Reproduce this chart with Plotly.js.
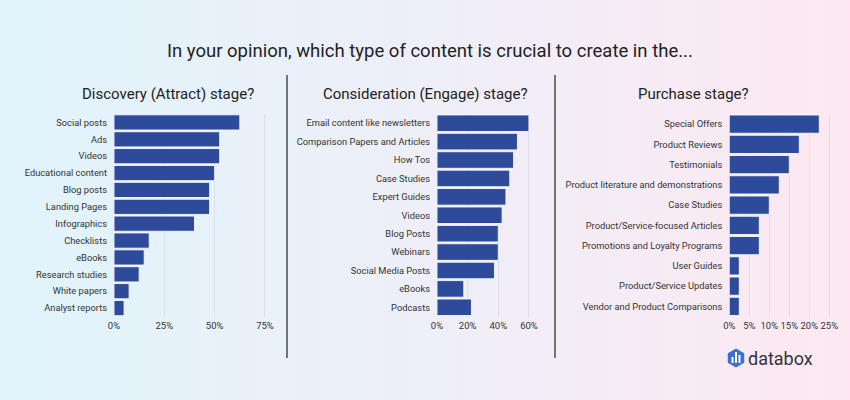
<!DOCTYPE html>
<html>
<head>
<meta charset="utf-8">
<script src="https://cdn.plot.ly/plotly-3.0.1.min.js"></script>
<style>
html, body { margin: 0; padding: 0; }
body {
    width: 850px;
    height: 400px;
    background: linear-gradient(90deg, #e0f4fb 0%, #eeeff8 50%, #fde8f1 100%);
}
#chart { width: 850px; height: 400px; }
</style>
</head>
<body>
<div id="chart"></div>
<script>
const discoveryLabels = ["Social posts", "Ads", "Videos", "Educational content", "Blog posts", "Landing Pages",
    "Infographics", "Checklists", "eBooks", "Research studies", "White papers", "Analyst reports"];
const discoveryValues = [62.5, 52.5, 52.5, 50, 47.5, 47.5, 40, 17.5, 15, 12.5, 7.5, 5];

const considerationLabels = ["Email content like newsletters", "Comparison Papers and Articles", "How Tos",
    "Case Studies", "Expert Guides", "Videos", "Blog Posts", "Webinars", "Social Media Posts", "eBooks", "Podcasts"];
const considerationValues = [60, 52.5, 50, 47.5, 45, 42.5, 40, 40, 37.5, 17.5, 22.5];

const purchaseLabels = ["Special Offers", "Product Reviews", "Testimonials", "Product literature and demonstrations",
    "Case Studies", "Product/Service-focused Articles", "Promotions and Loyalty Programs", "User Guides",
    "Product/Service Updates", "Vendor and Product Comparisons"];
const purchaseValues = [22.5, 17.5, 15, 12.5, 10, 7.5, 7.5, 2.5, 2.5, 2.5];

const discoveryTicks = [0, 25, 50, 75];
const considerationTicks = [0, 20, 40, 60];
const purchaseTicks = [0, 5, 10, 15, 20, 25];

const W = 850;
const H = 400;
const FONT = "Roboto, 'Noto Sans', sans-serif";
const BAR_COLOR = "#2e4a9a";

// pixel -> paper helpers
function px(x) { return x / W; }
function py(y) { return 1 - y / H; }

function barTrace(labels, values, n) {
    return {
        type: "bar",
        orientation: "h",
        x: values,
        y: labels,
        xaxis: "x" + (n === 1 ? "" : n),
        yaxis: "y" + (n === 1 ? "" : n),
        marker: { color: BAR_COLOR, line: { color: "rgba(255,255,255,0.85)", width: 1 } },
        hoverinfo: "none"
    };
}

function xAxis(left, right, maxVal, ticks, n) {
    return {
        domain: [px(left), px(right)],
        range: [0, maxVal],
        tickvals: ticks,
        ticktext: ticks.map((t) => t + "%"),
        tickangle: 0,
        showgrid: true,
        gridcolor: "#dcdfeb",
        gridwidth: 1,
        zeroline: false,
        showline: false,
        ticks: "",
        ticklabelstandoff: 2,
        tickfont: { family: FONT, size: 9.5, color: "#333" },
        anchor: "y" + (n === 1 ? "" : n),
        fixedrange: true
    };
}

function yAxis(n) {
    return {
        domain: [py(316.5), py(114)],
        autorange: "reversed",
        showgrid: false,
        zeroline: false,
        ticks: "",
        ticklabelstandoff: 6,
        tickfont: { family: FONT, size: 9.3, color: "#333" },
        anchor: "x" + (n === 1 ? "" : n),
        fixedrange: true
    };
}

function label(text, x, y, size, opts) {
    return Object.assign({
        text: text,
        xref: "paper",
        yref: "paper",
        x: px(x),
        y: py(y),
        xanchor: "center",
        yanchor: "middle",
        showarrow: false,
        font: { family: FONT, size: size, color: "#222" }
    }, opts || {});
}

function divider(x) {
    return {
        type: "line",
        xref: "paper",
        yref: "paper",
        x0: px(x), x1: px(x),
        y0: py(75), y1: py(358),
        line: { color: "#4a4a4a", width: 1.5 }
    };
}

function hexPath(cx, cy, r) {
    const pts = [];
    for (let i = 0; i < 6; i += 1) {
        const a = Math.PI / 180 * (60 * i - 90);
        pts.push(px(cx + r * Math.cos(a)) + "," + py(cy + r * Math.sin(a)));
    }
    return "M" + pts.join("L") + "Z";
}

function logoBar(x, top, bottom) {
    return {
        type: "rect",
        xref: "paper",
        yref: "paper",
        x0: px(x), x1: px(x + 2),
        y0: py(bottom), y1: py(top),
        fillcolor: "#ffffff",
        line: { width: 0 }
    };
}

const traces = [
    barTrace(discoveryLabels, discoveryValues, 1),
    barTrace(considerationLabels, considerationValues, 2),
    barTrace(purchaseLabels, purchaseValues, 3)
];

const layout = {
    width: W,
    height: H,
    margin: { t: 0, l: 0, r: 0, b: 0 },
    paper_bgcolor: "rgba(0,0,0,0)",
    plot_bgcolor: "rgba(0,0,0,0)",
    showlegend: false,
    bargap: 0.1,
    xaxis: xAxis(114, 267, 76, discoveryTicks, 1),
    yaxis: yAxis(1),
    xaxis2: xAxis(437, 532, 62, considerationTicks, 2),
    yaxis2: yAxis(2),
    xaxis3: xAxis(729.3, 833.3, 26, purchaseTicks, 3),
    yaxis3: yAxis(3),
    annotations: [
        label("In your opinion, which type of content is crucial to create in the...", 430, 51, 18.5),
        label("Discovery (Attract) stage?", 168, 94, 15),
        label("Consideration (Engage) stage?", 425, 94, 15),
        label("Purchase stage?", 693, 94, 15),
        label("databox", 780, 358, 17, { font: { family: FONT, size: 18, color: "#33343d" } })
    ],
    shapes: [
        divider(287),
        divider(555),
        { type: "path", xref: "paper", yref: "paper", path: hexPath(736, 358, 9.5), fillcolor: "#3b6fd4", line: { width: 0 } },
        logoBar(731.5, 357, 363),
        logoBar(735, 352, 363),
        logoBar(738.5, 355, 363)
    ]
};

Plotly.newPlot("chart", traces, layout, { displayModeBar: false, staticPlot: true });
</script>
</body>
</html>
